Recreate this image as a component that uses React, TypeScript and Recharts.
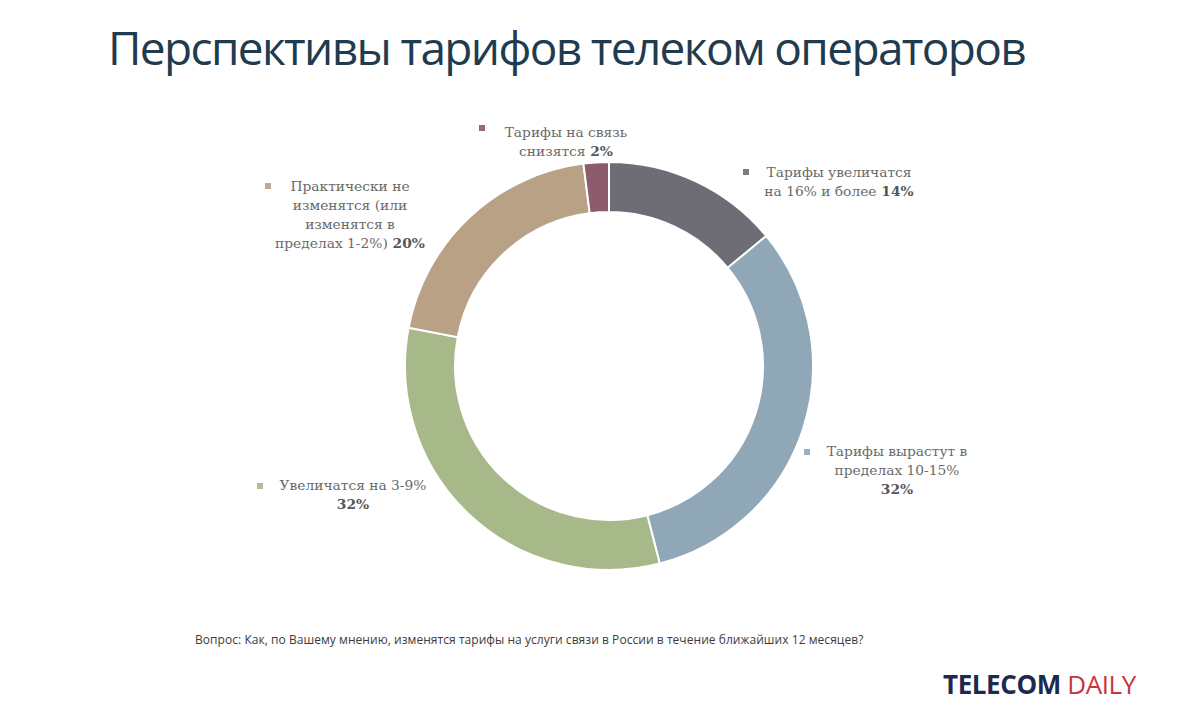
import React from "react";
import { PieChart, Pie, Cell } from "recharts";

const categories = [
  "Тарифы увеличатся на 16% и более",
  "Тарифы вырастут в пределах 10-15%",
  "Увеличатся на 3-9%",
  "Практически не изменятся (или изменятся в пределах 1-2%)",
  "Тарифы на связь снизятся",
];
const values = [14, 32, 32, 20, 2];
const colors = ["#6e6c74", "#90a7b8", "#a7b889", "#b9a186", "#8c5b6c"];
const labelLines = [
  ["Тарифы увеличатся", "на 16% и более"],
  ["Тарифы вырастут в", "пределах 10-15%", ""],
  ["Увеличатся на 3-9%", ""],
  ["Практически не", "изменятся (или", "изменятся в", "пределах 1-2%)"],
  ["Тарифы на связь", "снизятся"],
];
const title = "Перспективы тарифов телеком операторов";
const question =
  "Вопрос: Как, по Вашему мнению, изменятся тарифы на услуги связи в России в течение ближайших 12 месяцев?";

const data = categories.map((name, i) => ({ name, value: values[i] }));

// label placement (layout, not data): marker position, text center x, text top
const labelLayout = [
  { mx: 743, my: 169, cx: 839, top: 163 },
  { mx: 804, my: 449, cx: 897, top: 442 },
  { mx: 257, my: 483, cx: 353, top: 476 },
  { mx: 265, my: 183, cx: 350, top: 177 },
  { mx: 479, my: 125, cx: 566, top: 123 },
];

const serif = "'DejaVu Serif', 'Liberation Serif', serif";
const LW = 240;

function SliceLabel({ i }: { i: number }) {
  const lay = labelLayout[i];
  const lines = labelLines[i];
  return (
    <>
      <span
        style={{
          position: "absolute",
          left: lay.mx,
          top: lay.my,
          width: 6,
          height: 6,
          background: colors[i],
          opacity: 0.9,
        }}
      />
      <div
        style={{
          position: "absolute",
          left: lay.cx - LW / 2,
          top: lay.top,
          width: LW,
          fontFamily: serif,
          fontSize: 13.8,
          lineHeight: "19px",
          color: "#6a6a6a",
          textAlign: "center",
        }}
      >
        {lines.map((ln, k) => {
          const last = k === lines.length - 1;
          return (
            <div key={k}>
              {ln}
              {last ? (
                <b style={{ color: "#575757" }}>{(ln ? " " : "") + values[i] + "%"}</b>
              ) : null}
            </div>
          );
        })}
      </div>
    </>
  );
}

export default function App() {
  return (
    <div
      style={{
        position: "absolute",
        left: 0,
        top: 0,
        width: 1200,
        height: 726,
        background: "#ffffff",
        overflow: "hidden",
      }}
    >
      <div
        style={{
          position: "absolute",
          left: 108,
          top: 16,
          fontFamily: "'Open Sans', 'Noto Sans', sans-serif",
          fontSize: 46,
          color: "#1f3b4f",
          whiteSpace: "nowrap",
          letterSpacing: -1.65,
        }}
      >
        {title}
      </div>
      <div style={{ position: "absolute", left: 0, top: 0 }}>
        <PieChart width={1200} height={726} margin={{ top: 0, right: 0, bottom: 0, left: 0 }}>
          <Pie
            data={data}
            dataKey="value"
            nameKey="name"
            cx={609}
            cy={366}
            innerRadius={154}
            outerRadius={204}
            startAngle={90}
            endAngle={-270}
            stroke="#ffffff"
            strokeWidth={2}
            isAnimationActive={false}
          >
            {data.map((d, i) => (
              <Cell key={d.name} fill={colors[i]} />
            ))}
          </Pie>
        </PieChart>
      </div>
      {data.map((d, i) => (
        <SliceLabel key={d.name} i={i} />
      ))}
      <div
        style={{
          position: "absolute",
          left: 195,
          top: 631,
          fontFamily: "'Open Sans', 'Noto Sans', sans-serif",
          fontSize: 12,
          color: "#3c3c3c",
          whiteSpace: "nowrap",
          letterSpacing: 0.05,
        }}
      >
        {question}
      </div>
      <div
        style={{
          position: "absolute",
          left: 943,
          top: 666,
          fontFamily: "'Open Sans', 'Noto Sans', sans-serif",
          fontSize: 26,
          whiteSpace: "nowrap",
          letterSpacing: -0.4,
        }}
      >
        <span style={{ color: "#1b2a4e", fontWeight: 700 }}>TELECOM</span>
        <span style={{ color: "#c9353d", fontWeight: 400 }}> DAILY</span>
      </div>
    </div>
  );
}
